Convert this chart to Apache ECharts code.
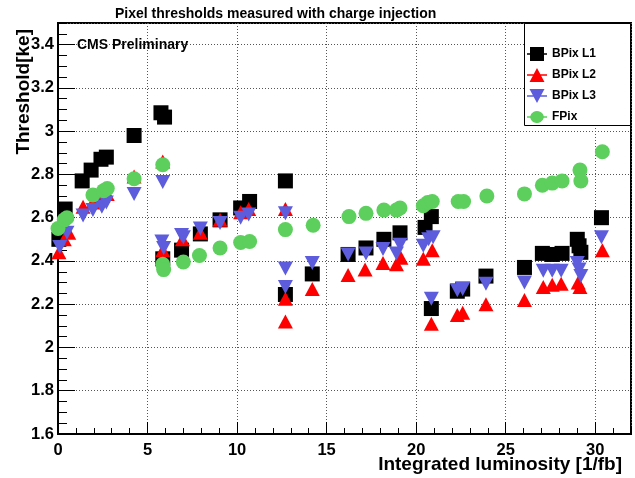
<!DOCTYPE html>
<html>
<head>
<meta charset="utf-8">
<script src="https://cdn.jsdelivr.net/npm/echarts@6/dist/echarts.min.js"></script>
<style>
html,body{margin:0;padding:0;background:#fff;}
#chart{width:635px;height:478px;}
</style>
</head>
<body>
<div id="chart"></div>
<script>
// ---- Data ----
var l1X = [0.05, 0.4, 1.35, 1.85, 2.4, 2.7, 4.25, 5.75, 5.95, 5.85, 6.9, 7.95, 9.05, 10.2, 10.7, 12.7, 12.7, 14.2, 16.2, 17.2, 18.2, 19.1, 20.5, 20.85, 20.85, 22.3, 22.6, 23.9, 26.05, 27.05, 27.6, 28.15, 29.0, 29.1, 29.2, 30.35];
var l1Y = [2.50, 2.64, 2.77, 2.82, 2.87, 2.88, 2.98, 3.085, 3.065, 2.41, 2.45, 2.525, 2.59, 2.645, 2.675, 2.77, 2.245, 2.34, 2.43, 2.46, 2.50, 2.53, 2.555, 2.605, 2.18, 2.26, 2.27, 2.33, 2.37, 2.435, 2.43, 2.435, 2.50, 2.47, 2.44, 2.60];

var l2X = [0.05, 0.35, 0.6, 1.4, 1.95, 2.5, 2.75, 4.25, 5.85, 5.85, 6.95, 7.95, 9.05, 10.2, 10.65, 12.7, 12.7, 12.7, 14.2, 16.2, 17.15, 18.15, 18.9, 19.15, 20.4, 20.9, 20.85, 22.3, 22.6, 23.9, 26.05, 27.1, 27.6, 28.1, 29.05, 29.15, 30.4];
var l2Y = [2.44, 2.50, 2.53, 2.65, 2.67, 2.70, 2.71, 2.79, 2.86, 2.45, 2.50, 2.53, 2.59, 2.625, 2.64, 2.64, 2.225, 2.12, 2.27, 2.335, 2.36, 2.39, 2.385, 2.415, 2.41, 2.45, 2.11, 2.15, 2.16, 2.20, 2.22, 2.28, 2.29, 2.295, 2.30, 2.28, 2.45];

var l3X = [0.1, 0.5, 1.4, 1.95, 2.45, 2.7, 4.25, 5.85, 5.8, 5.9, 6.9, 7.0, 7.95, 9.05, 10.2, 10.65, 12.7, 12.7, 12.7, 14.2, 16.2, 17.2, 18.15, 18.9, 19.1, 20.4, 20.7, 20.95, 20.85, 22.3, 22.6, 23.9, 26.05, 27.1, 27.6, 28.1, 29.0, 29.1, 29.2, 30.35];
var l3Y = [2.465, 2.53, 2.61, 2.635, 2.65, 2.67, 2.71, 2.765, 2.49, 2.46, 2.52, 2.51, 2.55, 2.575, 2.60, 2.615, 2.62, 2.365, 2.28, 2.39, 2.43, 2.435, 2.455, 2.435, 2.475, 2.47, 2.50, 2.51, 2.225, 2.265, 2.27, 2.295, 2.30, 2.355, 2.355, 2.355, 2.39, 2.36, 2.33, 2.51];

var fpX = [0.0, 0.35, 0.5, 1.95, 2.55, 2.75, 4.25, 5.85, 5.85, 5.9, 7.0, 7.9, 9.05, 10.2, 10.7, 12.7, 14.25, 16.25, 17.2, 18.2, 18.9, 19.1, 20.4, 20.65, 20.9, 22.35, 22.65, 23.95, 26.05, 27.05, 27.6, 28.15, 29.15, 29.2, 30.4];
var fpY = [2.55, 2.59, 2.60, 2.705, 2.725, 2.735, 2.78, 2.845, 2.385, 2.36, 2.395, 2.425, 2.46, 2.485, 2.49, 2.545, 2.565, 2.605, 2.62, 2.635, 2.635, 2.645, 2.655, 2.67, 2.675, 2.675, 2.675, 2.70, 2.71, 2.75, 2.76, 2.77, 2.82, 2.77, 2.905];

var seriesNames = ['BPix L1', 'BPix L2', 'BPix L3', 'FPix'];
var titleText = 'Pixel thresholds measured with charge injection';
var xTitle = 'Integrated luminosity [1/fb]';
var yTitle = 'Threshold[ke]';
var noteText = 'CMS Preliminary';

function zip(xs, ys) { return xs.map(function (x, i) { return [x, ys[i]]; }); }

var FONT = '"Liberation Sans", Arial, Helvetica, sans-serif';
var colors = ['#000000', '#ff0000', '#5c5cdc', '#5ccf5c'];

var iconSquare = 'path://M0,6.3 L3,6.3 L3,0 L17,0 L17,6.3 L20,6.3 L20,7.7 L17,7.7 L17,14 L3,14 L3,7.7 L0,7.7 Z';
var iconUp = 'path://M0,6.3 L6.625,6.3 L10,0 L13.375,6.3 L20,6.3 L20,7.7 L14.125,7.7 L17.5,14 L2.5,14 L5.875,7.7 L0,7.7 Z';
var iconDown = 'path://M0,6.3 L5.875,6.3 L2.5,0 L17.5,0 L14.125,6.3 L20,6.3 L20,7.7 L13.375,7.7 L10,14 L6.625,7.7 L0,7.7 Z';
var iconCircle = 'path://M0,6.3 L3.2,6.3 A7,7 0 0 1 16.8,6.3 L20,6.3 L20,7.7 L16.8,7.7 A7,7 0 0 1 3.2,7.7 L0,7.7 Z';

var chart = echarts.init(document.getElementById('chart'), null, {renderer: 'canvas'});

var grid = {left: 58, right: 4, top: 23, bottom: 44, show: true, borderColor: '#000', borderWidth: 2, backgroundColor: 'transparent'};

var option = {
  animation: false,
  backgroundColor: '#fff',
  title: {
    text: titleText, left: 110, top: 2,
    textStyle: {fontFamily: FONT, fontWeight: 'bold', fontSize: 14, color: '#000'}
  },
  grid: grid,
  legend: {
    orient: 'vertical', left: 522, top: 42, itemGap: 7, itemWidth: 20, itemHeight: 14,
    textStyle: {fontFamily: FONT, fontWeight: 'bold', fontSize: 12, color: '#000', lineHeight: 14},
    data: [
      {name: seriesNames[0], icon: iconSquare},
      {name: seriesNames[1], icon: iconUp},
      {name: seriesNames[2], icon: iconDown},
      {name: seriesNames[3], icon: iconCircle}
    ],
    selectedMode: false, z: 10
  },
  xAxis: [
    {
      type: 'value', min: 0, max: 32, interval: 5, position: 'bottom',
      axisLine: {show: true, onZero: false, lineStyle: {color: '#000', width: 2}},
      axisTick: {show: true, inside: true, length: 12, lineStyle: {color: '#000', width: 1}},
      axisLabel: {show: true, margin: 8, showMaxLabel: false, fontFamily: FONT, fontWeight: 'bold', fontSize: 16.5, color: '#000'},
      splitLine: {show: true, lineStyle: {color: '#555', type: [1, 2], width: 1}}
    },
    {
      type: 'value', min: 0, max: 32, interval: 1, position: 'bottom',
      axisLine: {show: false, onZero: false},
      axisTick: {show: true, inside: true, length: 6, lineStyle: {color: '#000', width: 1}},
      axisLabel: {show: false},
      splitLine: {show: false}
    }
  ],
  yAxis: [
    {
      type: 'value', min: 1.6, max: 3.5, interval: 0.2, position: 'left',
      axisLine: {show: true, onZero: false, lineStyle: {color: '#000', width: 2}},
      axisTick: {show: true, inside: true, length: 17, lineStyle: {color: '#000', width: 1}},
      axisLabel: {show: true, margin: 4, showMaxLabel: false, fontFamily: FONT, fontWeight: 'bold', fontSize: 16.5, color: '#000',
        formatter: function (v) { return String(Math.round(v * 10) / 10); }},
      splitLine: {show: true, lineStyle: {color: '#555', type: [1, 2], width: 1}}
    },
    {
      type: 'value', min: 1.6, max: 3.5, interval: 0.05, position: 'left',
      axisLine: {show: false, onZero: false},
      axisTick: {show: true, inside: true, length: 9, lineStyle: {color: '#000', width: 1}},
      axisLabel: {show: false},
      splitLine: {show: false}
    }
  ],
  graphic: [
    {type: 'rect', z: 5, shape: {x: 524.5, y: 23.5, width: 106, height: 102},
     style: {fill: '#fff', stroke: '#000', lineWidth: 1}},
    {type: 'text', z: 6, x: 77, y: 45, style: {text: noteText, fontFamily: FONT, fontWeight: 'bold', fontSize: 14, fill: '#000', align: 'left', verticalAlign: 'middle'}},
    {type: 'text', z: 6, x: 622, y: 465, style: {text: xTitle, fontFamily: FONT, fontWeight: 'bold', fontSize: 19, fill: '#000', align: 'right', verticalAlign: 'middle'}},
    {type: 'text', z: 6, x: 24, y: 29, rotation: Math.PI / 2, style: {text: yTitle, fontFamily: FONT, fontWeight: 'bold', fontSize: 19, fill: '#000', align: 'right', verticalAlign: 'middle'}}
  ],
  series: [
    {name: seriesNames[0], type: 'scatter', clip: false, symbol: 'rect', symbolSize: 15, data: zip(l1X, l1Y), itemStyle: {color: colors[0], opacity: 1}},
    {name: seriesNames[1], type: 'scatter', clip: false, symbol: 'triangle', symbolSize: [15, 14], data: zip(l2X, l2Y), itemStyle: {color: colors[1], opacity: 1}},
    {name: seriesNames[2], type: 'scatter', clip: false, symbol: 'triangle', symbolRotate: 180, symbolSize: [15, 14], data: zip(l3X, l3Y), itemStyle: {color: colors[2], opacity: 1}},
    {name: seriesNames[3], type: 'scatter', clip: false, symbol: 'circle', symbolSize: 15, data: zip(fpX, fpY), itemStyle: {color: colors[3], opacity: 1}}
  ]
};
chart.setOption(option);
</script>
</body>
</html>
